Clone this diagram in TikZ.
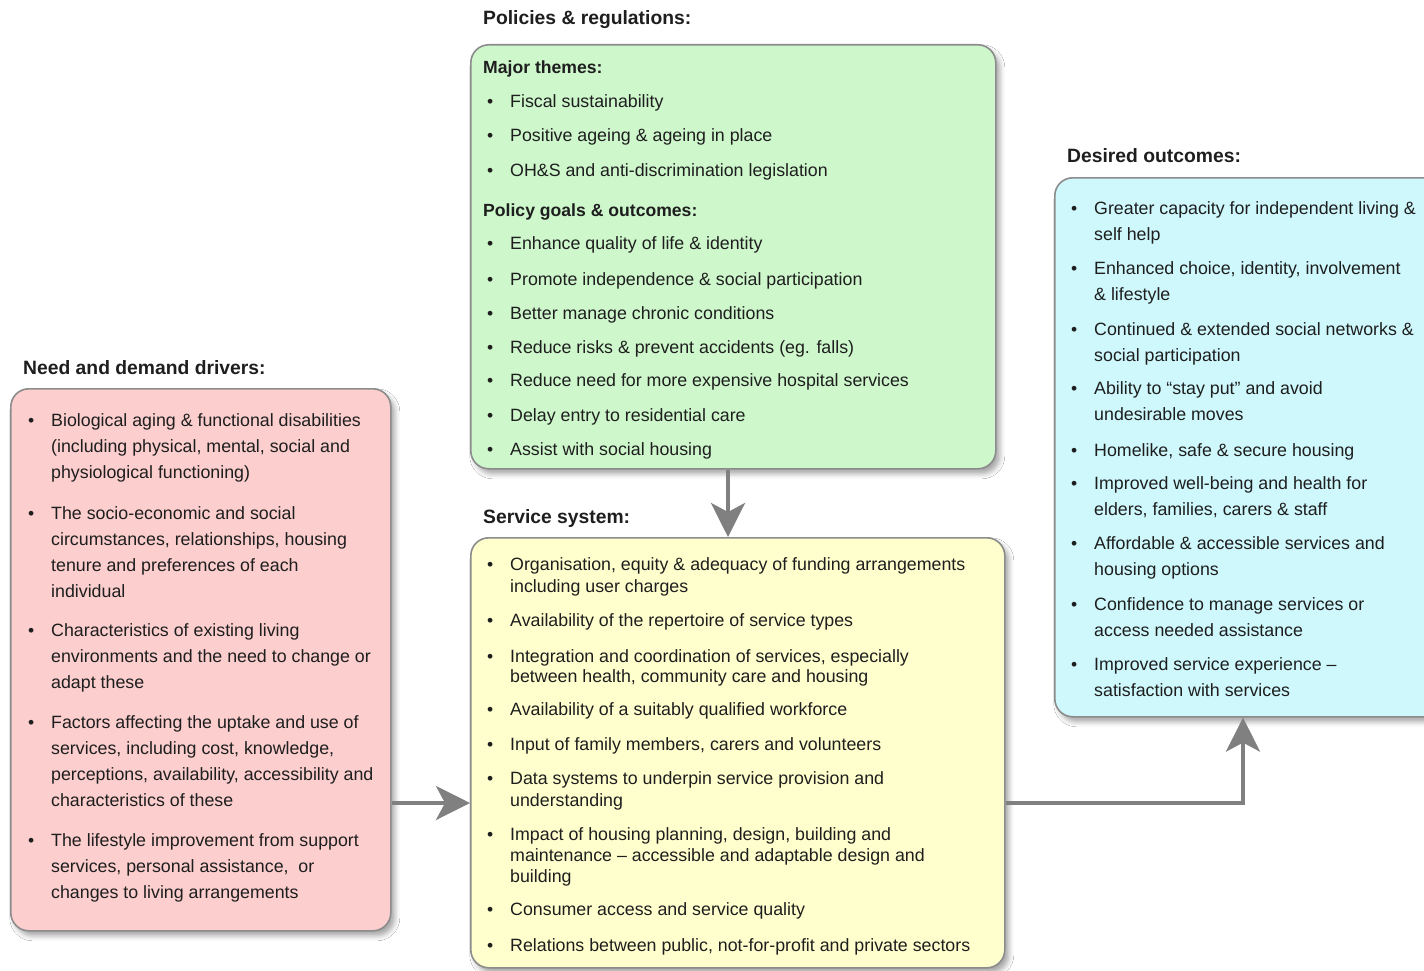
\documentclass[tikz,border=0pt]{standalone}
\usepackage{fontspec}
\setmainfont{Liberation Sans}
\usetikzlibrary{arrows.meta,shadows.blur,calc}
\definecolor{gfill}{RGB}{206,247,204}
\definecolor{pfill}{RGB}{252,206,206}
\definecolor{yfill}{RGB}{255,255,206}
\definecolor{cfill}{RGB}{206,248,252}
\definecolor{bord}{RGB}{140,140,140}
\definecolor{arr}{RGB}{128,128,128}
\definecolor{ink}{RGB}{30,30,30}
\tikzset{
  box/.style={draw=bord, line width=1.6pt, rounded corners=18pt, anchor=north west,
    blur shadow={shadow xshift=4pt, shadow yshift=-5pt, shadow blur radius=5pt, shadow opacity=35}},
  body/.style={anchor=base west, inner sep=0pt, text=ink},
  ttl/.style={anchor=base west, inner sep=0pt, text=ink, font=\fontsize{19.3}{23}\selectfont\bfseries},
  sub/.style={anchor=base west, inner sep=0pt, text=ink, font=\fontsize{17.6}{21}\selectfont\bfseries},
  conn/.style={draw=arr, line width=4pt, -{Stealth[length=34pt, width=34pt, inset=9pt]}},
}
\newcommand{\bul}[5]{%
  \node[body, font=\fontsize{17.8}{#4}\selectfont, name=#1] at (#2,#3)
    {\begin{tabular}[t]{@{}l@{}}#5\end{tabular}};
  \node[body, font=\fontsize{17.5}{21}\selectfont, name=#1-b] at ($(#1.base west)+(-23,0)$) {•};
}
\begin{document}
\begin{tikzpicture}[x=1pt, y=-1pt]
\useasboundingbox (0,0) rectangle (1424,971);
\clip (0,0) rectangle (1424,971);
\fill[white] (0,0) rectangle (1424,971);

% boxes
\node[box, fill=gfill, minimum width=525pt, minimum height=424pt] (green) at (470,44) {};
\node[box, fill=pfill, minimum width=380pt, minimum height=542pt] (pink) at (10,388) {};
\node[box, fill=yfill, minimum width=534pt, minimum height=430pt] (yellow) at (470,537) {};
\node[box, fill=cfill, minimum width=400pt, minimum height=539pt] (cyan) at (1054,177) {};

% titles
\node[ttl] (t1) at (483,25) {Policies \& regulations:};
\node[ttl] (t2) at (23,374) {Need and demand drivers:};
\node[ttl] (t3) at (483,523) {Service system:};
\node[ttl] (t4) at (1067,162) {Desired outcomes:};

% green
\node[sub] (s1) at (483,74) {Major themes:};
\bul{g1}{510}{108}{26}{Fiscal sustainability}
\bul{g2}{510}{142}{26}{Positive ageing \& ageing in place}
\bul{g3}{510}{176}{26}{OH\&S and anti-discrimination legislation}
\node[sub] (s2) at (483,216) {Policy goals \& outcomes:};
\bul{g4}{510}{249}{26}{Enhance quality of life \& identity}
\bul{g5}{510}{285}{26}{Promote independence \& social participation}
\bul{g6}{510}{319}{26}{Better manage chronic conditions}
\bul{g7}{510}{353}{26}{Reduce risks \& prevent accidents (eg. falls)}
\bul{g8}{510}{386}{26}{Reduce need for more expensive hospital services}
\bul{g9}{510}{421}{26}{Delay entry to residential care}
\bul{g10}{510}{455}{26}{Assist with social housing}

% pink
\bul{p1}{51}{426}{26}{Biological aging \& functional disabilities\\(including physical, mental, social and\\physiological functioning)}
\bul{p2}{51}{519}{26}{The socio-economic and social\\circumstances, relationships, housing\\tenure and preferences of each\\individual}
\bul{p3}{51}{636}{26}{Characteristics of existing living\\environments and the need to change or\\adapt these}
\bul{p4}{51}{728}{26}{Factors affecting the uptake and use of\\services, including cost, knowledge,\\perceptions, availability, accessibility and\\characteristics of these}
\bul{p5}{51}{846}{26}{The lifestyle improvement from support\\services, personal assistance,\ \ or\\changes to living arrangements}

% yellow
\bul{y1}{510}{570}{22}{Organisation, equity \& adequacy of funding arrangements\\including user charges}
\bul{y2}{510}{626}{22}{Availability of the repertoire of service types}
\bul{y3}{510}{662}{20}{Integration and coordination of services, especially\\between health, community care and housing}
\bul{y4}{510}{715}{22}{Availability of a suitably qualified workforce}
\bul{y5}{510}{750}{22}{Input of family members, carers and volunteers}
\bul{y6}{510}{784}{22}{Data systems to underpin service provision and\\understanding}
\bul{y7}{510}{840}{21}{Impact of housing planning, design, building and\\maintenance – accessible and adaptable design and\\building}
\bul{y8}{510}{915}{22}{Consumer access and service quality}
\bul{y9}{510}{951}{22}{Relations between public, not-for-profit and private sectors}

% cyan
\bul{c1}{1094}{214}{26}{Greater capacity for independent living \&\\self help}
\bul{c2}{1094}{274}{26}{Enhanced choice, identity, involvement\\\& lifestyle}
\bul{c3}{1094}{335}{26}{Continued \& extended social networks \&\\social participation}
\bul{c4}{1094}{394}{26}{Ability to “stay put” and avoid\\undesirable moves}
\bul{c5}{1094}{456}{26}{Homelike, safe \& secure housing}
\bul{c6}{1094}{489}{26}{Improved well-being and health for\\elders, families, carers \& staff}
\bul{c7}{1094}{549}{26}{Affordable \& accessible services and\\housing options}
\bul{c8}{1094}{610}{26}{Confidence to manage services or\\access needed assistance}
\bul{c9}{1094}{670}{26}{Improved service experience –\\satisfaction with services}

% connectors
\coordinate (dx) at (728,0);
\coordinate (ry) at (0,803);
\coordinate (ex) at (1243,0);
\draw[conn] (green.south -| dx) -- (yellow.north -| dx);
\draw[conn] (pink.east |- ry) -- (yellow.west |- ry);
\draw[conn] (yellow.east |- ry) -| (cyan.south -| ex);
\end{tikzpicture}
\end{document}
